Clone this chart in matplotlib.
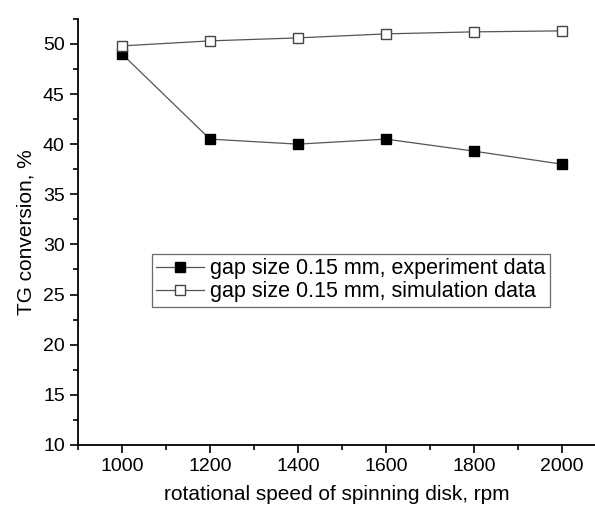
import matplotlib
matplotlib.use("Agg")
import matplotlib.pyplot as plt
from matplotlib.ticker import MultipleLocator

plt.rcParams['font.family'] = ['Liberation Sans', 'DejaVu Sans']

# data
speed = [1000, 1200, 1400, 1600, 1800, 2000]
experiment = [49.0, 40.5, 40.0, 40.5, 39.3, 38.0]
simulation = [49.8, 50.3, 50.6, 51.0, 51.2, 51.3]

fig = plt.figure(figsize=(5.95, 5.09), dpi=100)
ax = fig.add_axes([0.131, 0.126, 0.869, 0.837])

ax.plot(speed, experiment, color='#555555', lw=0.9, marker='s', ms=7,
        mfc='black', mec='black', label='gap size 0.15 mm, experiment data')
ax.plot(speed, simulation, color='#555555', lw=0.9, marker='s', ms=7,
        mfc='white', mec='#444444', label='gap size 0.15 mm, simulation data')

ax.set_xlim(900, 2075)
ax.set_ylim(10, 52.5)
ax.xaxis.set_major_locator(MultipleLocator(200))
ax.xaxis.set_minor_locator(MultipleLocator(100))
ax.yaxis.set_major_locator(MultipleLocator(5))
ax.yaxis.set_minor_locator(MultipleLocator(2.5))
ax.tick_params(which='both', direction='out', labelsize=14, width=1.2)
ax.tick_params(which='major', length=6)
ax.tick_params(which='minor', length=3.5)
ax.spines['top'].set_visible(False)
ax.spines['right'].set_visible(False)
ax.spines['left'].set_linewidth(1.3)
ax.spines['bottom'].set_linewidth(1.3)

ax.set_xlabel('rotational speed of spinning disk, rpm', fontsize=15, labelpad=7)
ax.set_ylabel('TG conversion, %', fontsize=15, labelpad=5)

leg = ax.legend(loc='upper left', bbox_to_anchor=(0.143, 0.448), fontsize=15.5,
                frameon=True, fancybox=False, edgecolor='#444444',
                handlelength=2.2, handletextpad=0.3, borderpad=0.2,
                labelspacing=0.1, borderaxespad=0)
leg.get_frame().set_linewidth(0.9)

fig.savefig('out.png', dpi=100)
